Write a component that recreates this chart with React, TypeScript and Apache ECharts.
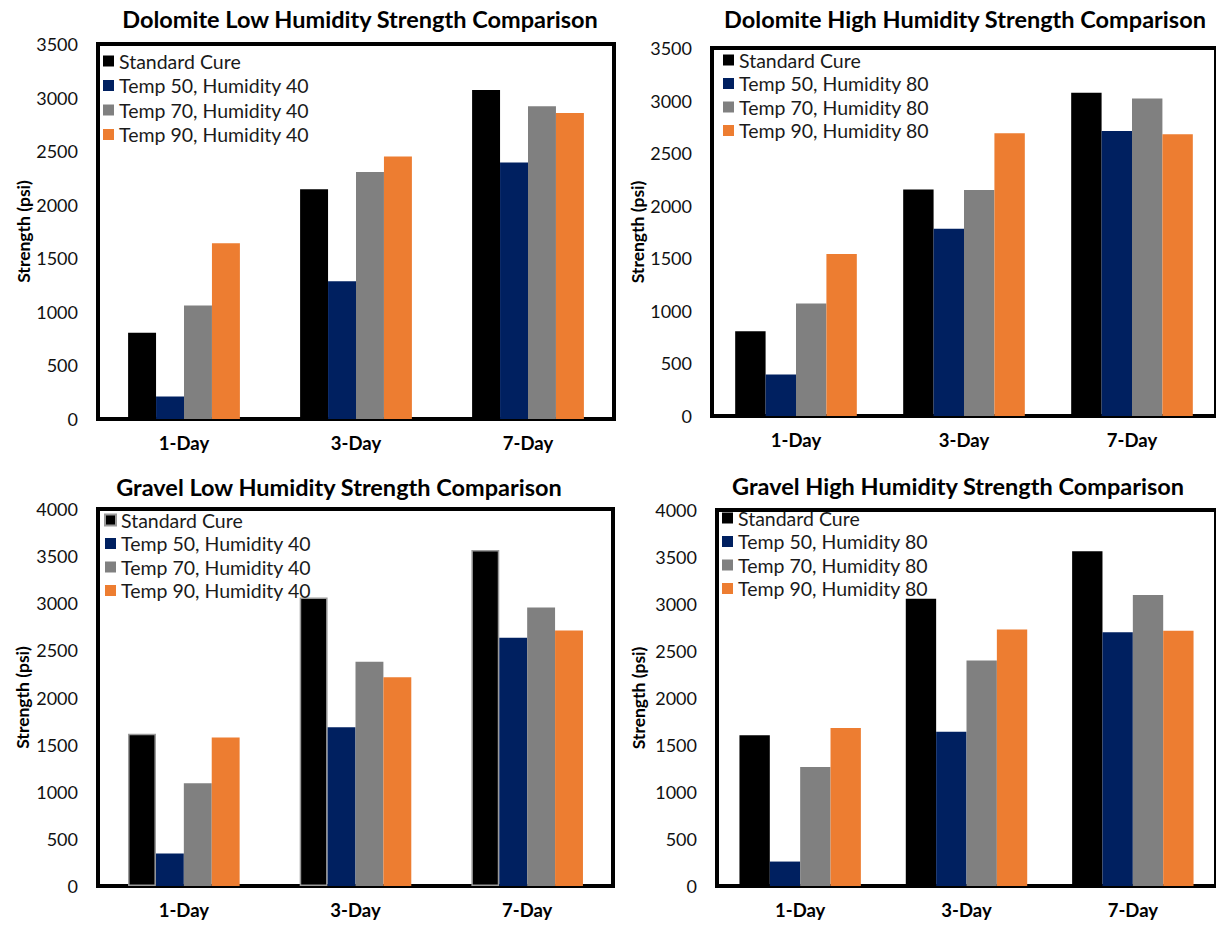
import React, { useEffect, useRef } from 'react';
import * as echarts from 'echarts';

const categories = ['1-Day', '3-Day', '7-Day'];
const namesLow = ['Standard Cure', 'Temp 50, Humidity 40', 'Temp 70, Humidity 40', 'Temp 90, Humidity 40'];
const namesHigh = ['Standard Cure', 'Temp 50, Humidity 80', 'Temp 70, Humidity 80', 'Temp 90, Humidity 80'];
const colors = ['#000000', '#002060', '#808080', '#ED7D31'];

// Dolomite Low Humidity
const dolLowStd = [805, 2145, 3070];
const dolLowT50 = [210, 1285, 2395];
const dolLowT70 = [1060, 2305, 2920];
const dolLowT90 = [1640, 2450, 2855];

// Dolomite High Humidity
const dolHighStd = [805, 2155, 3075];
const dolHighT50 = [395, 1780, 2710];
const dolHighT70 = [1070, 2150, 3020];
const dolHighT90 = [1540, 2690, 2680];

// Gravel Low Humidity
const gravLowStd = [1615, 3060, 3565];
const gravLowT50 = [345, 1685, 2635];
const gravLowT70 = [1090, 2380, 2955];
const gravLowT90 = [1575, 2215, 2710];

// Gravel High Humidity
const gravHighStd = [1605, 3055, 3560];
const gravHighT50 = [260, 1640, 2700];
const gravHighT70 = [1265, 2400, 3095];
const gravHighT90 = [1680, 2730, 2715];

const yTicksDolomite = { max: 3500, interval: 500 };
const yTicksGravel = { max: 4000, interval: 500 };

const FONT = 'Lato';

type Panel = {
  title: string;
  titleX: number;
  titleY: number;
  left: number;
  top: number;
  width: number;
  height: number;
  yAxis: { max: number; interval: number };
  names: string[];
  values: number[][];
  catGap: string;
  legendLeft: number;
  legendTop: number;
  legendGap: number;
  nameGap: number;
  stdBorder?: boolean;
};

const panels: Panel[] = [
  {
    title: 'Dolomite Low Humidity Strength Comparison',
    titleX: 360, titleY: 7,
    left: 98, top: 44, width: 516, height: 375,
    yAxis: yTicksDolomite,
    names: namesLow,
    values: [dolLowStd, dolLowT50, dolLowT70, dolLowT90],
    catGap: '35%',
    legendLeft: 103, legendTop: 51, legendGap: 4.5,
    nameGap: 64,
  },
  {
    title: 'Dolomite High Humidity Strength Comparison',
    titleX: 965, titleY: 7,
    left: 712, top: 48, width: 510, height: 368,
    yAxis: yTicksDolomite,
    names: namesHigh,
    values: [dolHighStd, dolHighT50, dolHighT70, dolHighT90],
    catGap: '27.6%',
    legendLeft: 723, legendTop: 50, legendGap: 3.5,
    nameGap: 66,
  },
  {
    title: 'Gravel Low Humidity Strength Comparison',
    titleX: 339, titleY: 475,
    left: 98, top: 509, width: 515, height: 377,
    yAxis: yTicksGravel,
    names: namesLow,
    values: [gravLowStd, gravLowT50, gravLowT70, gravLowT90],
    catGap: '35%',
    legendLeft: 104, legendTop: 510, legendGap: 3.5,
    nameGap: 67,
    stdBorder: true,
  },
  {
    title: 'Gravel High Humidity Strength Comparison',
    titleX: 958, titleY: 474,
    left: 717, top: 510, width: 504, height: 376,
    yAxis: yTicksGravel,
    names: namesHigh,
    values: [gravHighStd, gravHighT50, gravHighT70, gravHighT90],
    catGap: '27%',
    legendLeft: 722, legendTop: 508, legendGap: 3.5,
    nameGap: 70,
  },
];

function buildOption(p: Panel) {
  return {
    animation: false,
    textStyle: { fontFamily: FONT },
    title: {
      text: p.title,
      left: p.titleX,
      top: p.titleY,
      textAlign: 'center',
      padding: 0,
      textStyle: { fontFamily: FONT, fontWeight: 'bold', fontSize: 23.5, color: '#000' },
    },
    legend: {
      orient: 'vertical',
      left: p.legendLeft,
      top: p.legendTop,
      padding: 0,
      itemWidth: 11,
      itemHeight: 11,
      itemGap: p.legendGap,
      icon: 'rect',
      data: p.names,
      textStyle: { fontFamily: FONT, fontSize: 19.5, color: '#1a1a1a' },
    },
    grid: {
      left: p.left,
      top: p.top,
      width: p.width,
      height: p.height,
      show: true,
      borderColor: '#000',
      borderWidth: 4,
      containLabel: false,
    },
    xAxis: {
      type: 'category',
      data: categories,
      axisLine: { show: true, lineStyle: { color: '#000', width: 4 } },
      axisTick: { show: false },
      axisLabel: { fontFamily: FONT, fontSize: 18.5, fontWeight: 'bold', color: '#000', margin: 14 },
    },
    yAxis: {
      type: 'value',
      min: 0,
      max: p.yAxis.max,
      interval: p.yAxis.interval,
      name: 'Strength (psi)',
      nameLocation: 'middle',
      nameGap: p.nameGap,
      nameRotate: 90,
      nameTextStyle: { fontFamily: FONT, fontSize: 17.5, fontWeight: 'bold', color: '#000' },
      axisLine: { show: true, lineStyle: { color: '#000', width: 4 } },
      axisTick: { show: false },
      splitLine: { show: false },
      axisLabel: {
        fontFamily: FONT,
        fontSize: 18,
        color: '#111',
        margin: 20,
        formatter: (v: number) => String(v),
      },
    },
    series: p.names.map((name, i) => ({
      name,
      type: 'bar',
      data: p.values[i],
      barGap: '0%',
      barCategoryGap: p.catGap,
      itemStyle: {
        color: colors[i],
        borderColor: i === 0 && p.stdBorder ? '#9a9a9a' : undefined,
        borderWidth: i === 0 && p.stdBorder ? 1.5 : 0,
      },
    })),
  };
}

function ChartLayer({ panel }: { panel: Panel }) {
  const ref = useRef<HTMLDivElement>(null);
  useEffect(() => {
    if (!ref.current) return;
    const chart = echarts.init(ref.current, undefined, { renderer: 'svg' });
    chart.setOption(buildOption(panel) as any);
    return () => chart.dispose();
  }, [panel]);
  return (
    <div
      ref={ref}
      style={{ position: 'absolute', left: 0, top: 0, width: 1216, height: 927 }}
    />
  );
}

export default function App() {
  return (
    <div style={{ position: 'absolute', left: 0, top: 0, width: 1216, height: 927, background: '#fff', overflow: 'hidden' }}>
      {panels.map((p, i) => (
        <ChartLayer key={i} panel={p} />
      ))}
    </div>
  );
}
